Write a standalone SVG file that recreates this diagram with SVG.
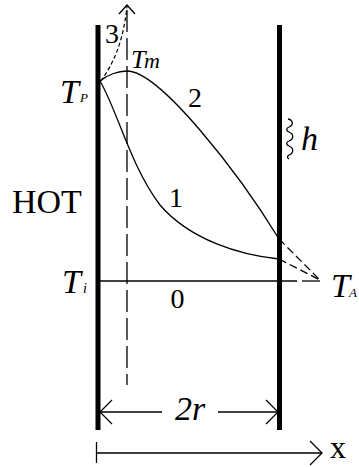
<svg xmlns="http://www.w3.org/2000/svg" width="359" height="467" viewBox="0 0 359 467">
<style>
.wall{stroke:#000;stroke-width:5;fill:none}
.ln{stroke:#000;stroke-width:1.3;fill:none}
.dash{stroke:#000;stroke-width:1.3;fill:none;stroke-dasharray:8 4}
.fine{stroke:#000;stroke-width:1.2;fill:none;stroke-dasharray:4 2.5}
.long{stroke:#000;stroke-width:1.3;fill:none;stroke-dasharray:22 6}
text{font-family:'Liberation Serif','Times New Roman',serif;fill:#000}
.i{font-style:italic}
</style>
<rect width="359" height="467" fill="#fff"/>
<g id="walls">
<line class="wall" x1="98" y1="25" x2="98" y2="430"/>
<line class="wall" x1="279.5" y1="25" x2="279.5" y2="430"/>
</g>
<g id="connectors">
<line class="long" x1="127" y1="10" x2="127" y2="385"/>
<line class="ln" x1="100" y1="281" x2="297" y2="281"/>
<line class="ln" x1="302" y1="281" x2="320" y2="281"/>
<path class="ln" d="M100,81 C118,112 130,165 160,205 C190,240 240,255 279,259"/>
<path class="ln" d="M100,81 C107,75 118,71 127,71 C160,71 240,175 279,239"/>
<path class="dash" d="M279,239 L320,280"/>
<path class="dash" d="M279,259 L320,280"/>
<path class="fine" d="M101,81 C112,65 123,45 127,6"/>
<path class="ln" d="M119,14 L127,5 L135,14"/>
<line class="ln" x1="100" y1="412" x2="162" y2="412"/>
<line class="ln" x1="218" y1="412" x2="279" y2="412"/>
<path class="ln" d="M112,400 L100,412 L112,424"/>
<path class="ln" d="M266,400 L278,412 L266,424"/>
<line class="ln" x1="96.5" y1="442" x2="96.5" y2="463"/>
<line class="ln" x1="96.5" y1="453" x2="322" y2="453"/>
<path class="ln" d="M310,441 L322,453 L310,465"/>
<path class="ln" d="M288,119 c5,1 6,6 1,8 c-3,1 -3,4 0,5 c5,2 5,7 0,9 c-3,1 -3,4 0,5 c5,2 5,7 0,9 c-2,1 -2,3 0,4"/>
</g>
<g id="labels">
<text class="i" x="60" y="103" font-size="34">T</text>
<text class="i" x="80" y="102" font-size="13">P</text>
<text class="i" x="62" y="293" font-size="34">T</text>
<text class="i" x="83" y="293" font-size="14">i</text>
<text class="i" x="331" y="297" font-size="34">T</text>
<text class="i" x="349" y="297" font-size="13">A</text>
<text class="i" x="131" y="68" font-size="26">T</text>
<text class="i" x="144" y="68" font-size="22">m</text>
<text x="105" y="43" font-size="28">3</text>
<text x="188" y="107" font-size="28">2</text>
<text x="176" y="207" font-size="28" text-anchor="middle">1</text>
<text x="177.5" y="308" font-size="28" text-anchor="middle">0</text>
<text x="12" y="213" font-size="34">HOT</text>
<text class="i" x="301" y="150" font-size="34">h</text>
<text class="i" x="190" y="420" font-size="34" text-anchor="middle">2r</text>
<text x="330" y="458" font-size="32">x</text>
</g>
</svg>
